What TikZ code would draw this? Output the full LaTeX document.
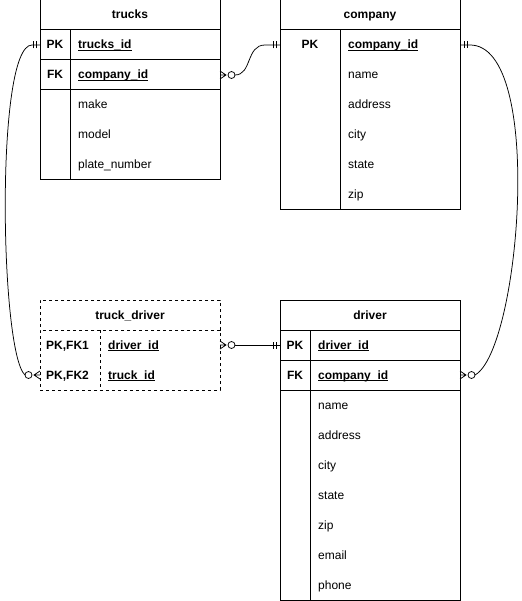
\documentclass[tikz,border=0pt]{standalone}
\usepackage{fontspec}
\setmainfont{Liberation Sans}
\usetikzlibrary{calc}
\newcommand\keyul[1]{\setbox0\hbox{#1}\rlap{\rule[-1.7pt]{\wd0}{0.8pt}}\box0}
\begin{document}
\fontsize{12}{14}\selectfont
\begin{tikzpicture}[x=1pt,y=-1pt,
 box/.style={draw, line width=1pt, fill=white, inner sep=0pt, outer sep=0pt, anchor=north west, minimum width=180pt},
 dbox/.style={box, dash pattern=on 3pt off 3pt},
 row/.style={inner sep=0pt, outer sep=0pt, minimum width=180pt, minimum height=30pt, anchor=north west},
 ttl/.style={anchor=base, inner sep=0pt, font=\bfseries},
 ctr/.style={anchor=base, inner sep=0pt, font=\bfseries},
 fld/.style={anchor=base west, inner sep=0pt},
 kf/.style={anchor=base west, inner sep=0pt, font=\bfseries},
 sep/.style={line width=1pt},
 conn/.style={line width=0.75pt},
 mandone/.pic={\draw[conn] (4,-3.5)--(4,3.5) (7,-3.5)--(7,3.5);},
 zeromany/.pic={\draw[conn] (0,-4)--(6,0)--(0,4) (0,0)--(6,0); \draw[conn, fill=white] (11.5,0) circle[radius=3.5pt];}
]
\useasboundingbox (0,0) rectangle (521,601);

% ---------- trucks ----------
\node[box, minimum height=30pt] (trucksttlbox) at (40,0) {};
\node[box, minimum height=30pt] (truckspk) at (40,30) {};
\node[box, minimum height=30pt] (trucksfk) at (40,60) {};
\node[box, minimum height=90pt] (trucksrest) at (40,90) {};
\draw[sep] (70,30) -- (70,180);
\node[ttl] (trucksttl) at (130,19) {trucks};
\node[ctr] (truckspkl) at (55,49) {PK};
\node[kf] (truckspkf) at (78,49) {\keyul{trucks\_id}};
\node[ctr] (trucksfkl) at (55,79) {FK};
\node[kf] (trucksfkf) at (78,79) {\keyul{company\_id}};
\node[fld] (trucksmake) at (78,109) {make};
\node[fld] (trucksmodel) at (78,139) {model};
\node[fld] (trucksplate) at (78,169) {plate\_number};

% ---------- company ----------
\node[box, minimum height=30pt] (compttlbox) at (280,0) {};
\node[box, minimum height=180pt] (compbody) at (280,30) {};
\node[row] (comppk) at (280,30) {};
\draw[sep] (340,30) -- (340,210);
\node[ttl] (compttl) at (370,19) {company};
\node[ctr] (comppkl) at (310,49) {PK};
\node[kf] (comppkf) at (348,49) {\keyul{company\_id}};
\node[fld] (compname) at (348,79) {name};
\node[fld] (compaddr) at (348,109) {address};
\node[fld] (compcity) at (348,139) {city};
\node[fld] (compstate) at (348,169) {state};
\node[fld] (compzip) at (348,199) {zip};

% ---------- truck_driver ----------
\node[dbox, minimum height=30pt] (tdttlbox) at (40,300) {};
\node[dbox, minimum height=60pt] (tdbody) at (40,330) {};
\node[row] (tdd) at (40,330) {};
\node[row] (tdt) at (40,360) {};
\draw[sep, dash pattern=on 3pt off 3pt] (100,330) -- (100,390);
\node[ttl] (tdttl) at (130,319) {truck\_driver};
\node[kf] (tddl) at (46,349) {PK,FK1};
\node[kf] (tddf) at (108,349) {\keyul{driver\_id}};
\node[kf] (tdtl) at (46,379) {PK,FK2};
\node[kf] (tdtf) at (108,379) {\keyul{truck\_id}};

% ---------- driver ----------
\node[box, minimum height=30pt] (drvttlbox) at (280,300) {};
\node[box, minimum height=30pt] (drvpk) at (280,330) {};
\node[box, minimum height=30pt] (drvfk) at (280,360) {};
\node[box, minimum height=210pt] (drvrest) at (280,390) {};
\draw[sep] (310,330) -- (310,600);
\node[ttl] (drvttl) at (370,319) {driver};
\node[ctr] (drvpkl) at (295,349) {PK};
\node[kf] (drvpkf) at (318,349) {\keyul{driver\_id}};
\node[ctr] (drvfkl) at (295,379) {FK};
\node[kf] (drvfkf) at (318,379) {\keyul{company\_id}};
\node[fld] (drvname) at (318,409) {name};
\node[fld] (drvaddr) at (318,439) {address};
\node[fld] (drvcity) at (318,469) {city};
\node[fld] (drvstate) at (318,499) {state};
\node[fld] (drvzip) at (318,529) {zip};
\node[fld] (drvemail) at (318,559) {email};
\node[fld] (drvphone) at (318,589) {phone};

% ---------- connectors ----------
% trucks.company_id -> company.company_id
\draw[conn] ($(trucksfk.east)+(15,0)$) .. controls ($(trucksfk.east)+(32,0)$) and ($(comppk.west)+(-34,0)$) .. ($(comppk.west)+(-15,0)$) -- (comppk.west);
\pic at (trucksfk.east) {zeromany};
\pic[rotate=180] at (comppk.west) {mandone};

% trucks.trucks_id -> truck_driver.truck_id
\draw[conn] (truckspk.west) -- ($(truckspk.west)+(-8,0)$) .. controls ($(truckspk.west)+(-45,0)$) and ($(tdt.west)+(-40,-22)$) .. ($(tdt.west)+(-15,0)$);
\pic[rotate=180] at (truckspk.west) {mandone};
\pic[rotate=180] at (tdt.west) {zeromany};

% company.company_id -> driver.company_id
\draw[conn] (comppk.east) -- ($(comppk.east)+(10,0)$) .. controls ($(comppk.east)+(85,0)$) and ($(drvfk.east)+(60,-25)$) .. ($(drvfk.east)+(15,0)$);
\pic at (comppk.east) {mandone};
\pic at (drvfk.east) {zeromany};

% truck_driver.driver_id -> driver.driver_id
\draw[conn] ($(tdd.east)+(15,0)$) -- (drvpk.west);
\pic at (tdd.east) {zeromany};
\pic[rotate=180] at (drvpk.west) {mandone};
\end{tikzpicture}
\end{document}
